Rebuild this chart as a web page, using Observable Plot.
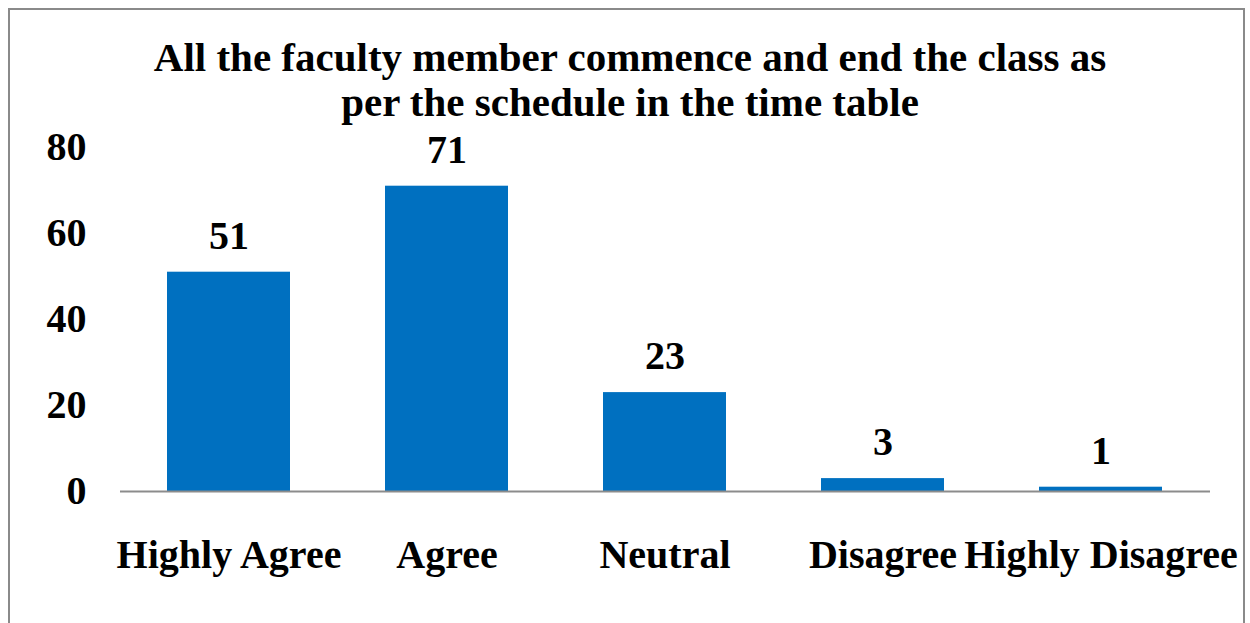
<!DOCTYPE html>
<html>
<head>
<meta charset="utf-8">
<script src="https://cdn.jsdelivr.net/npm/d3@7"></script>
<script src="https://cdn.jsdelivr.net/npm/@observablehq/plot@0.6"></script>
<style>
  html, body { margin: 0; padding: 0; background: #fff; width: 1250px; height: 623px; overflow: hidden; }
  #wrap { position: relative; width: 1250px; height: 623px; }
  #frame { position: absolute; left: 8px; top: 8px; width: 1237px; height: 660px; border: 2px solid #8a8a8a; box-sizing: border-box; }
  #title { position: absolute; left: 130px; width: 1000px; top: 35px; text-align: center;
           font-family: "Liberation Serif", "Times New Roman", serif; font-weight: bold; font-size: 41px; line-height: 45px; color: #000; }
  #chart { position: absolute; left: 0; top: 0; }
</style>
</head>
<body>
<div id="wrap">
  <div id="frame"></div>
  <div id="chart"></div>
  <div id="title">All the faculty member commence and end the class as<br>per the schedule in the time table</div>
</div>
<script>
const categories = ["Highly Agree", "Agree", "Neutral", "Disagree", "Highly Disagree"];
const values = [51, 71, 23, 3, 1];
const yTicks = [0, 20, 40, 60, 80];

const data = categories.map((c, i) => ({category: c, value: values[i]}));

const chart = Plot.plot({
  width: 1250,
  height: 623,
  marginLeft: 120,
  marginRight: 40,
  marginTop: 147,
  marginBottom: 132,
  style: {
    fontFamily: "'Liberation Serif', 'Times New Roman', serif",
    fontWeight: "bold",
    fontSize: "40px",
    color: "#000",
    background: "transparent",
    overflow: "visible"
  },
  x: {domain: categories, paddingInner: 0.434, paddingOuter: 0.217, label: null, tickSize: 0, tickPadding: 48},
  y: {domain: [0, 80], ticks: yTicks, label: null, tickSize: 0, tickPadding: 34},
  marks: [
    Plot.barY(data, {x: "category", y: "value", fill: "#0070C0"}),
    Plot.ruleY([0], {stroke: "#8c8c8c", strokeWidth: 2}),
    Plot.text(data, {x: "category", y: "value", text: d => String(d.value), dy: -36, fontSize: 40, fontWeight: "bold", fill: "#000"})
  ]
});
document.getElementById("chart").appendChild(chart);
</script>
</body>
</html>
